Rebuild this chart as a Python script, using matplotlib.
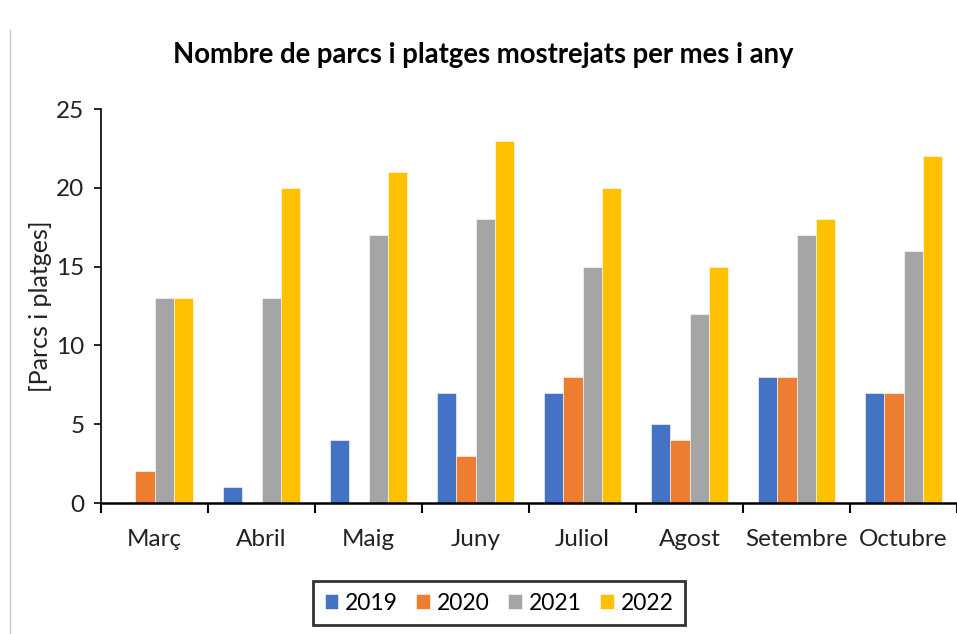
import matplotlib
matplotlib.use("Agg")
import matplotlib.pyplot as plt
import numpy as np
from matplotlib.lines import Line2D

months = ["Març", "Abril", "Maig", "Juny", "Juliol", "Agost", "Setembre", "Octubre"]
years = ["2019", "2020", "2021", "2022"]
v2019 = [0, 1, 4, 7, 7, 5, 8, 7]
v2020 = [2, 0, 0, 3, 8, 4, 8, 7]
v2021 = [13, 13, 17, 18, 15, 12, 17, 16]
v2022 = [13, 20, 21, 23, 20, 15, 18, 22]
series = [v2019, v2020, v2021, v2022]
colors = ["#4472C4", "#ED7D31", "#A5A5A5", "#FFC000"]

plt.rcParams['font.family'] = ['Lato', 'DejaVu Sans']

fig = plt.figure(figsize=(9.57, 6.34), dpi=100)
ax = fig.add_axes([101/957, 131/634, 856/957, 394/634])

x = np.arange(len(months))
w = 1/5.5
for i, (vals, c, lab) in enumerate(zip(series, colors, years)):
    ax.bar(x + (i - 1.5) * w, vals, width=w, color=c, edgecolor="white",
           linewidth=0.4, label=lab)

ax.set_xlim(-0.5, 7.5)
ax.set_ylim(0, 25)
ax.set_yticks([0, 5, 10, 15, 20, 25])
ax.set_xticks(np.arange(-0.5, 8.0, 1.0))
ax.set_xticklabels([])
ax.set_xticks(x, minor=True)
ax.set_xticklabels(months, minor=True)
ax.tick_params(axis='x', which='major', direction='out', length=7, width=1.5, color='black')
ax.tick_params(axis='x', which='minor', length=0, pad=19, labelsize=17.5, labelcolor='#222222')
ax.tick_params(axis='y', direction='out', length=5, width=1.2, pad=7, labelsize=17.5, labelcolor='#222222')

for s in ['top', 'right']:
    ax.spines[s].set_visible(False)
ax.spines['left'].set_linewidth(1.2)
ax.spines['bottom'].set_linewidth(1.8)

ax.set_ylabel("[Parcs i platges]", fontsize=18, color='#222222', labelpad=3)

fig.text(483/957, 1 - 55/634, "Nombre de parcs i platges mostrejats per mes i any",
         ha='center', va='center', fontsize=19.8, fontweight='bold')

leg = fig.legend(loc='center', bbox_to_anchor=(499/957, 1 - 603/634), ncol=4,
                 frameon=True, fancybox=False, fontsize=16.5, handlelength=0.6,
                 handleheight=0.6, handletextpad=0.3, columnspacing=0.8,
                 borderpad=0.5)
leg.get_frame().set_edgecolor('black')
leg.get_frame().set_linewidth(2)

fig.add_artist(Line2D([10/957, 10/957], [0, 1 - 30/634], transform=fig.transFigure,
                      color='#c8c8c8', linewidth=1))

fig.savefig("out.png", dpi=100)
